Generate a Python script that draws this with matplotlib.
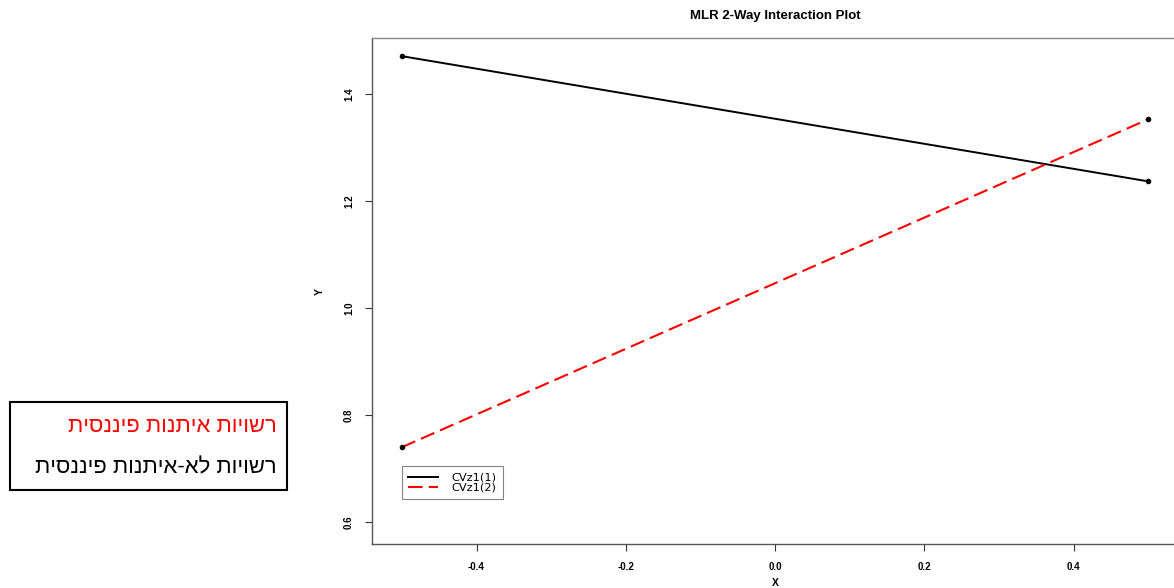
import matplotlib
matplotlib.use("Agg")
import matplotlib.pyplot as plt
from matplotlib.patches import Rectangle

plt.rcParams["font.family"] = ["Liberation Sans", "DejaVu Sans"]

# data
x_levels = [-0.5, 0.5]
y_cvz1_1 = [1.471, 1.237]
y_cvz1_2 = [0.740, 1.353]
series_labels = ["CVz1(1)", "CVz1(2)"]
x_ticks = [-0.4, -0.2, 0.0, 0.2, 0.4]
y_ticks = [0.6, 0.8, 1.0, 1.2, 1.4]
hebrew_labels = ["רשויות איתנות פיננסית", "רשויות לא-איתנות פיננסית"]


def visual(s):
    # matplotlib has no bidi support, so reverse RTL text for display
    return s[::-1]


fig = plt.figure(figsize=(11.74, 5.88), dpi=100)
ax = fig.add_axes([0.3169, 0.0748, 0.6865, 0.8606])

ax.plot(x_levels, y_cvz1_1, color="black", lw=1.4, label=series_labels[0])
ax.plot(x_levels, y_cvz1_2, color="red", lw=1.5, dashes=(7, 3),
        label=series_labels[1])
ax.scatter(x_levels + x_levels, y_cvz1_1 + y_cvz1_2, s=9, color="black",
           zorder=3)

ax.set_xlim(-0.54, 0.54)
ax.set_ylim(0.559, 1.505)
ax.set_xticks(x_ticks)
ax.set_xticklabels([f"{v:.1f}" for v in x_ticks], fontsize=7, fontweight="bold")
ax.set_yticks(y_ticks)
ax.set_yticklabels([f"{v:.1f}" for v in y_ticks], fontsize=7, fontweight="bold",
                   rotation=90, va="center")
ax.tick_params(direction="out", length=5, width=0.8, pad=8, color="#333333")
for sp in ax.spines.values():
    sp.set_color("#888888")
    sp.set_linewidth(1)
ax.spines["left"].set_color("#555555")
ax.spines["bottom"].set_color("#555555")

ax.set_xlabel("X", fontsize=7.5, fontweight="bold", labelpad=4)
ax.set_ylabel("Y", fontsize=7.5, fontweight="bold", labelpad=14)
ax.set_title("MLR 2-Way Interaction Plot", fontsize=9.5, fontweight="bold",
             pad=14)

leg = ax.legend(loc="lower left", bbox_to_anchor=(0.037, 0.089),
                borderaxespad=0, prop={"family": "DejaVu Sans", "size": 8.2},
                frameon=True, fancybox=False, handlelength=2.6,
                labelspacing=0.0, borderpad=0.55, handletextpad=1.2)
leg.get_frame().set_edgecolor("#666666")
leg.get_frame().set_linewidth(0.8)

# Hebrew label box on the left
fig.patches.append(Rectangle((0.0085, 0.1667), 0.236, 0.1496,
                             transform=fig.transFigure, fill=False,
                             edgecolor="black", lw=1.5))
fig.text(0.236, 0.274, visual(hebrew_labels[0]), color="red", fontsize=15.8,
         ha="right", va="center")
fig.text(0.236, 0.204, visual(hebrew_labels[1]), color="black", fontsize=15.8,
         ha="right", va="center")

fig.savefig("out.png", dpi=100, facecolor="white")
